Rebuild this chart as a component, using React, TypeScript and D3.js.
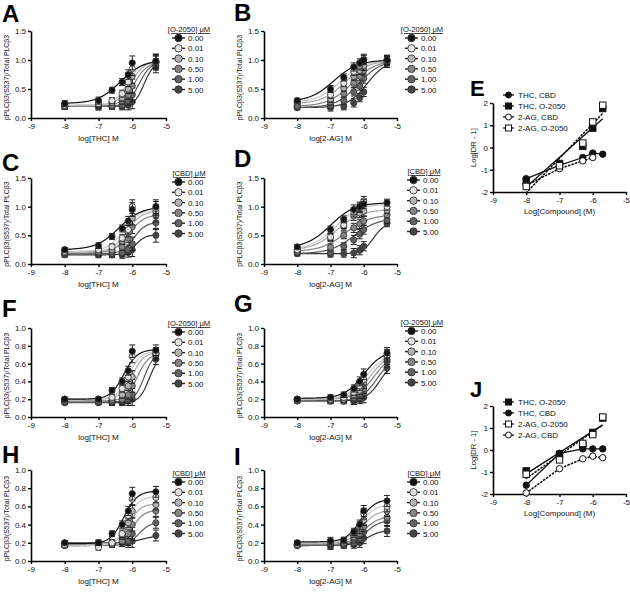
import React, { useEffect, useRef } from "react";
import * as d3 from "d3";

const FONT = "'Liberation Sans', Arial, Helvetica, sans-serif";

// log concentrations of agonist used in the dose-response panels
const doses = [-8, -7, -6.6, -6.3, -6.12, -6, -5.3];
const antagonistConc = ["0.00", "0.01", "0.10", "0.50", "1.00", "5.00"];
const seriesFill = ["#111111", "#e4e4e4", "#b4b4b4", "#858585", "#636363", "#444444"];
const seriesLine = ["#111111", "#c8c8c8", "#a8a8a8", "#808080", "#5a5a5a", "#333333"];

// Panel A: THC + O-2050
const aValues = [
  [0.25, 0.30, 0.48, 0.62, 0.75, 0.95, 0.98],
  [0.22, 0.25, 0.30, 0.42, 0.62, 0.85, 0.97],
  [0.22, 0.24, 0.27, 0.35, 0.50, 0.72, 0.98],
  [0.20, 0.22, 0.22, 0.30, 0.40, 0.55, 0.95],
  [0.20, 0.20, 0.20, 0.22, 0.30, 0.40, 0.95],
  [0.20, 0.20, 0.20, 0.20, 0.22, 0.28, 0.90],
];
const aBottom = [0.25, 0.22, 0.22, 0.2, 0.2, 0.2];
const aTop = [1.0, 0.98, 0.98, 0.97, 0.97, 0.97];
const aEC50 = [-6.35, -6.15, -6.05, -5.95, -5.8, -5.65];
const aHill = [1.3, 2.2, 2.2, 2.2, 2.5, 3];
const aErr = [0.05, 0.06, 0.05, 0.06, 0.08, 0.12, 0.12];

// Panel B: 2-AG + O-2050
const bValues = [
  [0.30, 0.50, 0.70, 0.88, 0.95, 1.00, 1.00],
  [0.28, 0.40, 0.60, 0.80, 0.90, 1.02, 1.00],
  [0.26, 0.33, 0.52, 0.72, 0.82, 0.90, 1.00],
  [0.22, 0.28, 0.42, 0.60, 0.72, 0.82, 0.98],
  [0.20, 0.22, 0.30, 0.45, 0.55, 0.68, 0.98],
  [0.18, 0.18, 0.20, 0.26, 0.35, 0.45, 0.95],
];
const bBottom = [0.28, 0.26, 0.24, 0.2, 0.18, 0.18];
const bTop = [1.0, 1.0, 1.0, 1.0, 1.0, 1.0];
const bEC50 = [-6.9, -6.7, -6.55, -6.35, -6.15, -5.9];
const bHill = [1.2, 1.2, 1.2, 1.2, 1.3, 1.5];
const bErr = [0.04, 0.06, 0.06, 0.07, 0.07, 0.08, 0.08];

// Panel C: THC + CBD
const cValues = [
  [0.25, 0.32, 0.48, 0.62, 0.75, 0.95, 1.00],
  [0.22, 0.25, 0.30, 0.45, 0.60, 1.00, 0.97],
  [0.22, 0.22, 0.25, 0.40, 0.55, 0.80, 0.92],
  [0.20, 0.20, 0.22, 0.30, 0.45, 0.65, 0.85],
  [0.18, 0.18, 0.18, 0.20, 0.25, 0.35, 0.72],
  [0.16, 0.16, 0.16, 0.16, 0.20, 0.25, 0.50],
];
const cBottom = [0.25, 0.22, 0.21, 0.19, 0.18, 0.16];
const cTop = [1.0, 0.97, 0.93, 0.86, 0.73, 0.51];
const cEC50 = [-6.4, -6.25, -6.15, -6.1, -5.95, -5.9];
const cHill = [1.3, 1.8, 2, 2, 2.5, 3];
const cErr = [0.04, 0.05, 0.05, 0.06, 0.08, 0.12, 0.12];

// Panel D: 2-AG + CBD
const dValues = [
  [0.30, 0.60, 0.78, 0.95, 1.00, 1.05, 1.07],
  [0.25, 0.47, 0.68, 0.90, 0.98, 1.10, 1.00],
  [0.25, 0.45, 0.65, 0.84, 0.89, 0.92, 0.94],
  [0.22, 0.29, 0.50, 0.63, 0.70, 0.75, 0.86],
  [0.20, 0.20, 0.31, 0.42, 0.52, 0.60, 0.77],
  [0.18, 0.18, 0.18, 0.19, 0.24, 0.31, 0.71],
];
const dBottom = [0.28, 0.25, 0.24, 0.22, 0.18, 0.18];
const dTop = [1.07, 1.05, 0.95, 0.86, 0.8, 0.73];
const dEC50 = [-7.0, -6.85, -6.8, -6.55, -6.3, -5.7];
const dHill = [1.2, 1.2, 1.2, 1.2, 1.2, 2.5];
const dErr = [0.04, 0.06, 0.06, 0.08, 0.08, 0.08, 0.06];

// Panel F: THC + O-2050
const fValues = [
  [0.20, 0.20, 0.30, 0.40, 0.52, 0.74, 0.75],
  [0.20, 0.20, 0.22, 0.32, 0.45, 0.68, 0.72],
  [0.20, 0.20, 0.20, 0.25, 0.35, 0.45, 0.72],
  [0.18, 0.18, 0.18, 0.20, 0.25, 0.35, 0.70],
  [0.17, 0.17, 0.17, 0.18, 0.20, 0.25, 0.70],
  [0.16, 0.16, 0.16, 0.17, 0.18, 0.20, 0.65],
];
const fBottom = [0.2, 0.2, 0.2, 0.18, 0.17, 0.16];
const fTop = [0.76, 0.74, 0.73, 0.72, 0.72, 0.7];
const fEC50 = [-6.25, -6.1, -6.0, -5.85, -5.65, -5.5];
const fHill = [2.2, 2.5, 2.5, 2.5, 3, 3];
const fErr = [0.02, 0.02, 0.03, 0.04, 0.05, 0.07, 0.06];

// Panel G: 2-AG + O-2050
const gValues = [
  [0.20, 0.22, 0.25, 0.32, 0.40, 0.48, 0.72],
  [0.20, 0.20, 0.22, 0.28, 0.35, 0.42, 0.70],
  [0.20, 0.20, 0.20, 0.25, 0.30, 0.38, 0.68],
  [0.20, 0.20, 0.20, 0.22, 0.26, 0.32, 0.65],
  [0.18, 0.18, 0.18, 0.20, 0.22, 0.27, 0.62],
  [0.18, 0.18, 0.18, 0.18, 0.20, 0.22, 0.55],
];
const gBottom = [0.21, 0.2, 0.2, 0.2, 0.18, 0.18];
const gTop = [0.75, 0.73, 0.72, 0.7, 0.68, 0.65];
const gEC50 = [-6.0, -5.9, -5.8, -5.7, -5.6, -5.5];
const gHill = [1.5, 1.5, 1.6, 1.7, 1.8, 2];
const gErr = [0.02, 0.03, 0.03, 0.04, 0.05, 0.06, 0.06];

// Panel H: THC + CBD
const hValues = [
  [0.20, 0.20, 0.30, 0.40, 0.55, 0.74, 0.76],
  [0.18, 0.15, 0.20, 0.30, 0.50, 0.68, 0.70],
  [0.18, 0.18, 0.20, 0.28, 0.42, 0.55, 0.62],
  [0.17, 0.18, 0.18, 0.22, 0.30, 0.40, 0.55],
  [0.17, 0.18, 0.18, 0.20, 0.22, 0.30, 0.42],
  [0.20, 0.20, 0.20, 0.20, 0.20, 0.22, 0.28],
];
const hBottom = [0.19, 0.17, 0.18, 0.17, 0.17, 0.2];
const hTop = [0.77, 0.71, 0.63, 0.56, 0.43, 0.28];
const hEC50 = [-6.25, -6.15, -6.1, -6.0, -5.8, -5.7];
const hHill = [2.2, 2.5, 2.5, 2.5, 2.5, 2];
const hErr = [0.02, 0.03, 0.03, 0.04, 0.05, 0.07, 0.06];

// Panel I: 2-AG + CBD
const iValues = [
  [0.20, 0.22, 0.23, 0.32, 0.40, 0.55, 0.66],
  [0.20, 0.20, 0.22, 0.30, 0.38, 0.52, 0.60],
  [0.18, 0.20, 0.20, 0.27, 0.35, 0.45, 0.55],
  [0.18, 0.18, 0.20, 0.24, 0.30, 0.38, 0.48],
  [0.17, 0.17, 0.18, 0.20, 0.25, 0.32, 0.44],
  [0.17, 0.17, 0.17, 0.18, 0.20, 0.25, 0.33],
];
const iBottom = [0.21, 0.2, 0.19, 0.18, 0.17, 0.17];
const iTop = [0.68, 0.62, 0.56, 0.49, 0.45, 0.34];
const iEC50 = [-6.1, -6.1, -6.05, -6.0, -5.95, -5.9];
const iHill = [2, 2, 2, 2, 2, 2];
const iErr = [0.02, 0.04, 0.03, 0.04, 0.05, 0.06, 0.06];

// Schild-type panels E and J
const shiftDoses = [-8, -7, -6.3, -6, -5.7];
const eThcCbd = [-1.4, -0.8, -0.45, -0.25, -0.3];
const eThcO2050 = [-1.5, -0.72, 0.05, 0.87, 1.75];
const eAgCbd = [-1.7, -0.95, -0.6, -0.45];
const eAgO2050 = [-1.75, -0.82, 0.2, 1.15, 1.9];
const jThcO2050 = [-0.95, -0.2, 0.25, 0.8, 1.45];
const jThcCbd = [-1.6, -0.15, 0.05, 0.05, 0.05];
const jAgO2050 = [-1.1, -0.45, 0.3, 0.7, 1.5];
const jAgCbd = [-1.95, -0.85, -0.4, -0.28, -0.35];

const select = d3.select;

const sigmoid = (x, bottom, top, ec50, hill) =>
  bottom + (top - bottom) / (1 + Math.pow(10, (ec50 - x) * hill));

function styleAxis(g) {
  g.attr("font-family", FONT).attr("font-size", 8);
  g.selectAll(".domain").attr("stroke", "#000").attr("stroke-width", 1.6);
  g.selectAll(".tick line").attr("stroke", "#000").attr("stroke-width", 1.4);
  g.selectAll(".tick text").attr("fill", "#111");
}

function AxisLeft({ scale, ticks, format, x }) {
  const ref = useRef(null);
  useEffect(() => {
    if (ref.current) {
      const g = select(ref.current);
      g.call(d3.axisLeft(scale).tickValues(ticks).tickFormat(format).tickSize(3).tickSizeOuter(0).tickPadding(2));
      styleAxis(g);
    }
  }, [scale]);
  return <g ref={ref} transform={`translate(${x},0)`} />;
}

function AxisBottom({ scale, y }) {
  const ref = useRef(null);
  useEffect(() => {
    if (ref.current) {
      const g = select(ref.current);
      g.call(d3.axisBottom(scale).tickValues([-9, -8, -7, -6, -5]).tickFormat((d) => String(d)).tickSize(3).tickSizeOuter(0).tickPadding(2));
      styleAxis(g);
    }
  }, [scale]);
  return <g ref={ref} transform={`translate(0,${y})`} />;
}

function Letter({ x, y, text, size = 24 }) {
  return (
    <text x={x} y={y} fontFamily={FONT} fontWeight="bold" fontSize={size} fill="#000">
      {text}
    </text>
  );
}

function DosePanel({ p }) {
  const x = d3.scaleLinear().domain([-9, -5]).range([p.x0, p.x1]);
  const y = d3.scaleLinear().domain([0, p.yMax]).range([p.yBase, p.yTop]);
  const grid = d3.range(-8, -5.29, 0.02);
  const line = d3.line().x((d) => x(d[0])).y((d) => y(d[1]));
  const order = [5, 4, 3, 2, 1, 0];
  const yTicks = p.yMax > 1.2 ? [0, 0.5, 1.0, 1.5] : [0, 0.2, 0.4, 0.6, 0.8, 1.0];
  const yMid = (p.yBase + p.yTop) / 2;
  return (
    <g>
      <Letter x={p.lx} y={p.ly} text={p.letter} />
      <AxisLeft scale={y} ticks={yTicks} format={d3.format(".1f")} x={p.x0} />
      <AxisBottom scale={x} y={p.yBase} />
      <text
        transform={`translate(${p.x0 - 22},${yMid + 3}) rotate(-90)`}
        textAnchor="middle"
        fontFamily={FONT}
        fontSize={6.9}
        fill="#111"
      >
        pPLCβ3(S537)/Total PLCβ3
      </text>
      <text x={(p.x0 + p.x1) / 2} y={p.yBase + 23} textAnchor="middle" fontFamily={FONT} fontSize={8} fill="#111">
        {p.xTitle}
      </text>
      {order.map((s) => (
        <path
          key={`c${s}`}
          d={line(grid.map((g) => [g, sigmoid(g, p.bottom[s], p.top[s], p.ec50[s], p.hill[s])]))}
          fill="none"
          stroke={seriesLine[s]}
          strokeWidth={1.2}
        />
      ))}
      {order.map((s) => (
        <g key={`p${s}`}>
          {p.values[s].map((v, k) => {
            const e = p.err[k];
            const cx = x(doses[k]);
            return (
              <g key={k}>
                <line x1={cx} x2={cx} y1={y(v - e)} y2={y(v + e)} stroke="#222" strokeWidth={1} />
                <line x1={cx - 3} x2={cx + 3} y1={y(v + e)} y2={y(v + e)} stroke="#222" strokeWidth={1} />
                <line x1={cx - 3} x2={cx + 3} y1={y(v - e)} y2={y(v - e)} stroke="#222" strokeWidth={1} />
                <circle cx={cx} cy={y(v)} r={3.1} fill={seriesFill[s]} stroke="#333" strokeWidth={0.8} />
              </g>
            );
          })}
        </g>
      ))}
      <text
        x={p.legX + 17}
        y={p.legY + 3}
        textAnchor="middle"
        fontFamily={FONT}
        fontSize={7.6}
        fill="#111"
        textDecoration="underline"
      >
        {p.legTitle}
      </text>
      {antagonistConc.map((c, s) => {
        const cy = p.legY + 9 + s * 10.3;
        return (
          <g key={`l${s}`}>
            <line x1={p.legX} x2={p.legX + 13} y1={cy} y2={cy} stroke="#222" strokeWidth={1.4} />
            <circle cx={p.legX + 6.5} cy={cy} r={3.7} fill={seriesFill[s]} stroke="#333" strokeWidth={0.9} />
            <text x={p.legX + 16} y={cy + 3} fontFamily={FONT} fontSize={8} fill="#111">
              {c}
            </text>
          </g>
        );
      })}
    </g>
  );
}

function Marker({ cx, cy, shape, filled, size = 3.2 }) {
  const fill = filled ? "#111" : "#fff";
  if (shape === "square") {
    return <rect x={cx - size} y={cy - size} width={size * 2} height={size * 2} fill={fill} stroke="#111" strokeWidth={1} />;
  }
  return <circle cx={cx} cy={cy} r={size} fill={fill} stroke="#111" strokeWidth={1} />;
}

function regression(xs, ys) {
  const mx = d3.mean(xs);
  const my = d3.mean(ys);
  const sxy = d3.sum(xs, (v, i) => (v - mx) * (ys[i] - my));
  const sxx = d3.sum(xs, (v) => (v - mx) ** 2);
  const slope = sxy / sxx;
  return (v) => my + slope * (v - mx);
}

function ShiftPanel({ p }) {
  const x = d3.scaleLinear().domain([-9, -5]).range([p.x0, p.x1]);
  const y = d3.scaleLinear().domain([-2, 2]).range([p.yBase, p.yTop]);
  const line = d3.line().x((d) => x(d[0])).y((d) => y(d[1]));
  return (
    <g>
      <Letter x={p.lx} y={p.ly} text={p.letter} size={22} />
      <AxisLeft scale={y} ticks={[-2, -1, 0, 1, 2]} format={(d) => String(d)} x={p.x0} />
      <AxisBottom scale={x} y={p.yBase} />
      <text
        transform={`translate(${p.x0 - 17},${(p.yBase + p.yTop) / 2}) rotate(-90)`}
        textAnchor="middle"
        fontFamily={FONT}
        fontSize={7.6}
        fill="#111"
      >
        Log[DR - 1]
      </text>
      <text x={(p.x0 + p.x1) / 2} y={p.yBase + 22} textAnchor="middle" fontFamily={FONT} fontSize={8} fill="#111">
        Log[Compound] (M)
      </text>
      {p.series.map((s, i) => {
        const xs = shiftDoses.slice(0, s.ys.length);
        let pts;
        if (s.fit === "regression") {
          const f = regression(xs, s.ys);
          pts = [xs[0], xs[xs.length - 1]].map((v) => [v, f(v)]);
        } else {
          pts = xs.map((v, k) => [v, s.ys[k]]);
        }
        return (
          <path
            key={`ln${i}`}
            d={line(pts)}
            fill="none"
            stroke="#111"
            strokeWidth={s.dotted ? 1.6 : 1.3}
            strokeDasharray={s.dotted ? "1.2 2.4" : null}
            strokeLinecap={s.dotted ? "round" : "butt"}
          />
        );
      })}
      {p.series.map((s, i) => (
        <g key={`pt${i}`}>
          {s.ys.map((v, k) => (
            <Marker key={k} cx={x(shiftDoses[k])} cy={y(v)} shape={s.shape} filled={s.filled} />
          ))}
        </g>
      ))}
      {p.series.map((s, i) => {
        const cy = p.legY + i * 11;
        return (
          <g key={`lg${i}`}>
            <line x1={p.legX} x2={p.legX + 11} y1={cy} y2={cy} stroke="#111" strokeWidth={1.3} />
            <Marker cx={p.legX + 5.5} cy={cy} shape={s.shape} filled={s.filled} size={3} />
            <text x={p.legX + 15} y={cy + 3} fontFamily={FONT} fontSize={8} fill="#111">
              {s.label}
            </text>
          </g>
        );
      })}
    </g>
  );
}

const dosePanels = [
  { letter: "A", lx: 2, ly: 22, x0: 31, x1: 166, yBase: 118, yTop: 31, yMax: 1.5, xTitle: "log[THC] M", legTitle: "[O-2050] μM", legX: 172, legY: 29, values: aValues, bottom: aBottom, top: aTop, ec50: aEC50, hill: aHill, err: aErr },
  { letter: "B", lx: 234, ly: 21, x0: 264, x1: 397, yBase: 118, yTop: 31, yMax: 1.5, xTitle: "log[2-AG] M", legTitle: "[O-2050] μM", legX: 405, legY: 29, values: bValues, bottom: bBottom, top: bTop, ec50: bEC50, hill: bHill, err: bErr },
  { letter: "C", lx: 2, ly: 171, x0: 31, x1: 166, yBase: 264, yTop: 178, yMax: 1.5, xTitle: "log[THC] M", legTitle: "[CBD] μM", legX: 172, legY: 173, values: cValues, bottom: cBottom, top: cTop, ec50: cEC50, hill: cHill, err: cErr },
  { letter: "D", lx: 234, ly: 167, x0: 264, x1: 397, yBase: 264, yTop: 178, yMax: 1.5, xTitle: "log[2-AG] M", legTitle: "[CBD] μM", legX: 407, legY: 171, values: dValues, bottom: dBottom, top: dTop, ec50: dEC50, hill: dHill, err: dErr },
  { letter: "F", lx: 2, ly: 317, x0: 31, x1: 166, yBase: 417, yTop: 328, yMax: 1.0, xTitle: "log[THC] M", legTitle: "[O-2050] μM", legX: 172, legY: 323, values: fValues, bottom: fBottom, top: fTop, ec50: fEC50, hill: fHill, err: fErr },
  { letter: "G", lx: 234, ly: 312, x0: 264, x1: 397, yBase: 417, yTop: 328, yMax: 1.0, xTitle: "log[2-AG] M", legTitle: "[O-2050] μM", legX: 405, legY: 322, values: gValues, bottom: gBottom, top: gTop, ec50: gEC50, hill: gHill, err: gErr },
  { letter: "H", lx: 2, ly: 463, x0: 31, x1: 166, yBase: 561, yTop: 470, yMax: 1.0, xTitle: "log[THC] M", legTitle: "[CBD] μM", legX: 172, legY: 473, values: hValues, bottom: hBottom, top: hTop, ec50: hEC50, hill: hHill, err: hErr },
  { letter: "I", lx: 234, ly: 465, x0: 264, x1: 397, yBase: 561, yTop: 470, yMax: 1.0, xTitle: "log[2-AG] M", legTitle: "[CBD] μM", legX: 407, legY: 473, values: iValues, bottom: iBottom, top: iTop, ec50: iEC50, hill: iHill, err: iErr },
];

const shiftPanels = [
  {
    letter: "E", lx: 470, ly: 96, x0: 493, x1: 626, yBase: 192, yTop: 103, legX: 503, legY: 95,
    series: [
      { label: "THC, CBD", ys: eThcCbd, shape: "circle", filled: true, dotted: false, fit: "connect" },
      { label: "THC, O-2050", ys: eThcO2050, shape: "square", filled: true, dotted: false, fit: "regression" },
      { label: "2-AG, CBD", ys: eAgCbd, shape: "circle", filled: false, dotted: true, fit: "connect" },
      { label: "2-AG, O-2050", ys: eAgO2050, shape: "square", filled: false, dotted: true, fit: "regression" },
    ],
  },
  {
    letter: "J", lx: 470, ly: 397, x0: 493, x1: 626, yBase: 494, yTop: 406, legX: 503, legY: 402,
    series: [
      { label: "THC, O-2050", ys: jThcO2050, shape: "square", filled: true, dotted: false, fit: "regression" },
      { label: "THC, CBD", ys: jThcCbd, shape: "circle", filled: true, dotted: false, fit: "connect" },
      { label: "2-AG, O-2050", ys: jAgO2050, shape: "square", filled: false, dotted: true, fit: "regression" },
      { label: "2-AG, CBD", ys: jAgCbd, shape: "circle", filled: false, dotted: true, fit: "connect" },
    ],
  },
];

export default function App() {
  return (
    <svg
      width={630}
      height={594}
      style={{ position: "absolute", left: 0, top: 0, background: "#fff", display: "block" }}
    >
      <rect width={630} height={594} fill="#fff" />
      {dosePanels.map((p) => (
        <DosePanel key={p.letter} p={p} />
      ))}
      {shiftPanels.map((p) => (
        <ShiftPanel key={p.letter} p={p} />
      ))}
    </svg>
  );
}
